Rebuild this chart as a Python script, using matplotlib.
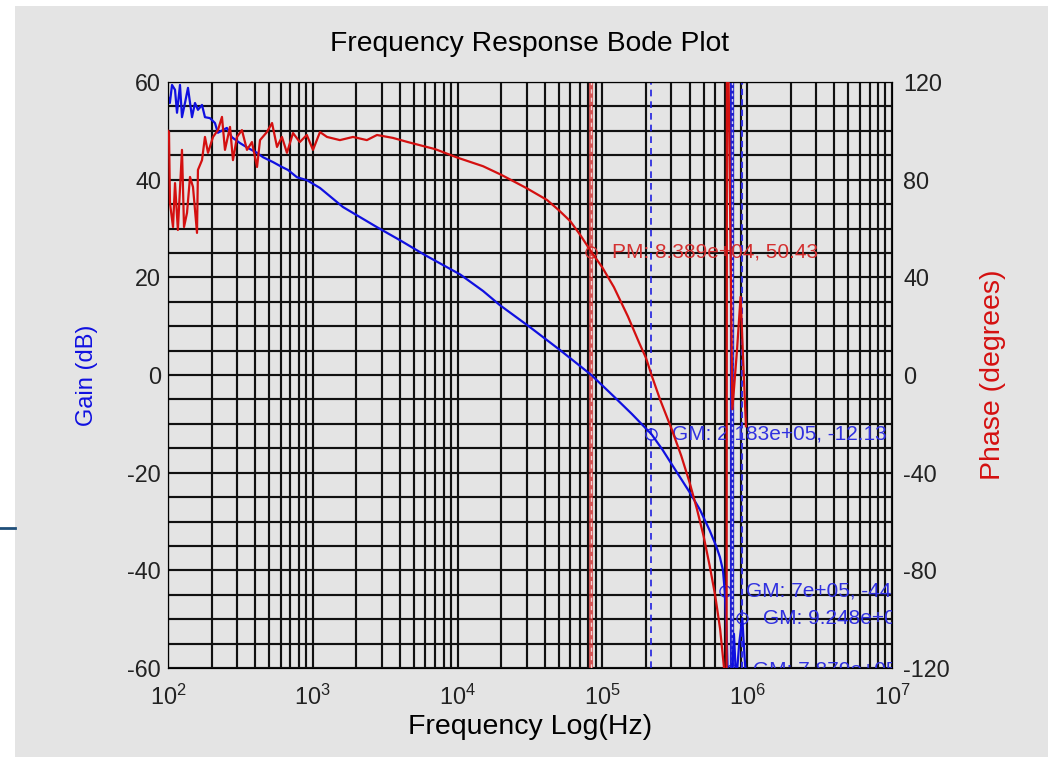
import numpy as np
import matplotlib
matplotlib.use("Agg")
import matplotlib.pyplot as plt
from matplotlib.patches import Rectangle
from matplotlib.lines import Line2D

plt.rcParams['font.family'] = ['Liberation Sans', 'DejaVu Sans']
plt.rcParams['axes.unicode_minus'] = False

# gain curve (Hz, dB)
gain_freq = [100, 103, 106.6, 111.8, 115.4, 121, 124.9, 131, 137.4, 146.5, 153.6,
             161, 171.7, 180, 194.9, 211, 221, 255, 276, 314, 356, 412, 453, 531,
             612, 673, 777, 910, 1121, 1615, 2765, 4000, 6000, 1.04e4, 1.5e4, 1.96e4,
             3.16e4, 5.1e4, 8.389e4, 1.2e5, 1.6e5, 2.183e5, 2.6e5, 3e5, 3.5e5, 4e5,
             4.72e5, 5.5e5, 6.1e5, 6.48e5, 6.8e5, 7e5, 7.2e5, 7.35e5, 7.6e5, 7.879e5,
             8.1e5, 8.4e5, 8.8e5, 9.248e5, 9.6e5, 1.0e6]
gain_db = [57.0, 55.7, 59.4, 58.4, 53.7, 59.4, 52.8, 55.7, 58.8, 52.8, 55.7,
           54.3, 55.3, 52.8, 52.6, 51.6, 49.6, 50.6, 48.7, 47.5, 46.5, 45.5, 44.6, 43.6,
           42.6, 42.0, 40.5, 39.9, 38.3, 34.4, 30.3, 27.6, 24.5, 20.6, 17.2, 14.3,
           9.8, 5.1, 0.0, -4.4, -8.0, -12.13, -15.3, -18.2, -21.3, -24.0,
           -27.6, -31.8, -35.0, -37.3, -40.0, -44.3, -52.0, -62.0, -66.0, -60.4,
           -53.0, -63.0, -55.0, -49.8, -58.0, -65.0]

# phase curve (Hz, degrees), wraps through -180 near 7.2e5 Hz
phase_freq = [100, 101.6, 103.2, 108.3, 111.8, 117, 124.9, 129, 135.3, 141.9, 148.8,
              158.6, 161, 171.7, 180, 188.9, 204.6, 221.3, 235.9, 247.4, 268, 281,
              299.5, 324, 351, 380, 412, 432, 482, 523, 566, 612, 663, 730, 813,
              909, 1003, 1121, 1253, 1539, 1895, 2363, 2775, 3577, 4531, 7000, 1e4,
              1.5e4, 2e4, 3e4, 4.14e4, 5e4, 6e4, 7e4, 8.389e4, 1e5, 1.2e5, 1.5e5,
              1.8e5, 2e5, 2.183e5, 2.5e5, 3e5, 3.5e5, 4e5, 4.5e5, 5e5, 5.5e5, 6e5,
              6.5e5, 7e5, 7.15e5, 7.2e5, 7.25e5, 7.9e5, 8.5e5, 9e5, 9.4e5, 9.8e5]
phase_deg = [100, 99.5, 70.4, 60.6, 78.6, 59.4, 92.2, 60.6, 66.4, 81.1, 77,
             58.2, 84, 88, 97.5, 91, 97.5, 100.3, 105.7, 92.2, 101.6, 88,
             97.5, 100.3, 92.2, 95.4, 85.2, 96.2, 99.5, 103.2, 93.4, 97.5, 91, 99.1, 95.4,
             98.3, 92.2, 99.5, 97.5, 96.2, 97.5, 96.2, 98.3, 97.1, 95.4, 92.5, 89,
             85.5, 82, 76.5, 71.7, 67.5, 63, 57.5, 50.43, 44, 36, 24,
             13, 7, 0.0, -10, -22, -33, -44, -55, -66, -78, -90,
             -104, -123, -160, -179, 179, -14, 10, 32, 5, -21]

pm_freq, pm_phase = 8.389e4, 50.43
gm_freq = [2.183e5, 7e5, 9.248e5, 7.879e5]
gm_gain = [-12.13, -44.33, -49.8, -60.4]
gm_text = ['GM: 2.183e+05, -12.13', 'GM: 7e+05, -44.33', 'GM: 9.248e+05, -49.8',
           'GM: 7.879e+05, -60.4']

bg = '#e4e4e4'
fig = plt.figure(figsize=(10.52, 7.57), dpi=100, facecolor='white')
fig.patches.append(Rectangle((15 / 1052, 0), 1033 / 1052, 1 - 6 / 757,
                             transform=fig.transFigure, facecolor=bg, edgecolor='none', zorder=-10))
fig.lines.append(Line2D([0, 15 / 1052], [1 - 528 / 757] * 2, transform=fig.transFigure,
                        color='#1f4e79', lw=2))

ax = fig.add_axes([168 / 1052, 1 - 668 / 757, 724 / 1052, 586 / 757])
ax.set_facecolor(bg)
ax.set_xscale('log')
ax.set_xlim(1e2, 1e7)
ax.set_ylim(-60, 60)
ax.set_yticks(np.arange(-60, 61, 20))
ax.set_yticks(np.arange(-60, 61, 5), minor=True)
ax.grid(True, which='both', axis='both', color='#111111', lw=1.55)
ax.tick_params(which='both', direction='in', labelsize=16.8, length=0,
               labelcolor='#222222')
ax.tick_params(axis='x', pad=12)
ax.tick_params(axis='y', pad=5)

ax2 = ax.twinx()
ax2.set_ylim(-120, 120)
ax2.set_yticks(np.arange(-120, 121, 40))
ax2.tick_params(direction='in', labelsize=16.8, length=0, labelcolor='#222222', pad=8)

# marker lines
ax.axvline(pm_freq, color='#d03030', lw=3, alpha=0.8, zorder=3)
ax.axvline(pm_freq, color='#f4d0d0', lw=1, ls=(0, (3, 3)), zorder=3)
ax.axvline(gm_freq[0], color='#2020e0', lw=1.2, ls=(0, (4, 3)), zorder=3)
ax.axvline(gm_freq[3], color='#2020d0', lw=3, zorder=3)
ax.axvline(gm_freq[3], color='#d0d0f4', lw=1, ls=(0, (2, 2)), zorder=3)
ax.axvline(gm_freq[2], color='#3030e0', lw=1.5, ls=(0, (3, 2)), zorder=3)

ax.plot(gain_freq, gain_db, color='#1010e0', lw=1.6, zorder=4)
ax2.plot(phase_freq, phase_deg, color='#d41010', lw=1.6, zorder=4)

ax2.plot(pm_freq, pm_phase, 'o', mfc='none', mec='#d43030', ms=8)
ax2.annotate('PM: 8.389e+04, 50.43', (pm_freq, pm_phase), xytext=(15, 0),
             textcoords='offset points', va='center', color='#d43030', fontsize=15,
             annotation_clip=False, clip_on=True)
for f, g, t in zip(gm_freq, gm_gain, gm_text):
    ax.plot(f, g, 'o', mfc='none', mec='#3030e0', ms=8, clip_on=True)
    ax.annotate(t, (f, g), xytext=(15, 0), textcoords='offset points', va='center',
                color='#3030e0', fontsize=15, annotation_clip=False, clip_on=True)

ax.set_title('Frequency Response Bode Plot', fontsize=20.3, pad=22)
ax.set_xlabel('Frequency Log(Hz)', fontsize=20.5, labelpad=3)
ax.set_ylabel('Gain (dB)', fontsize=17, color='#1010e0', labelpad=21)
ax2.set_ylabel('Phase (degrees)', fontsize=20.5, color='#d41010', labelpad=22)

fig.savefig('out.png', dpi=100, facecolor=fig.get_facecolor())
